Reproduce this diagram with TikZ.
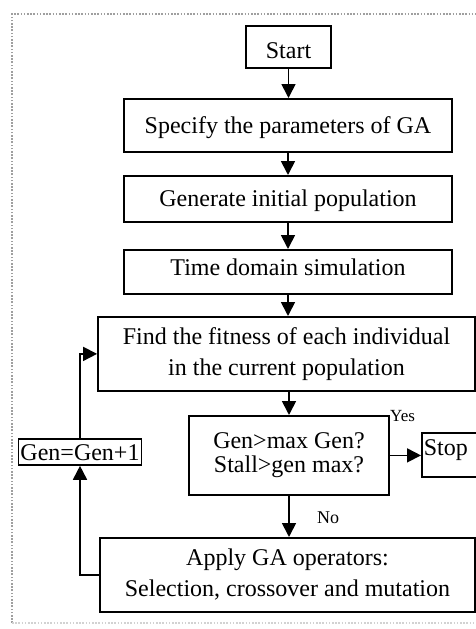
\documentclass[tikz,border=0pt]{standalone}
\usepackage{fontspec}
\setmainfont{Liberation Serif}
\usetikzlibrary{arrows.meta}
\tikzset{
  box/.style={draw=black, line width=1.8pt, inner xsep=0pt, inner ysep=0pt, align=center,
    font=\fontsize{24pt}{31pt}\selectfont, anchor=north},
  arr/.style={line width=1.7pt, -{Triangle[width=14pt,length=14pt]}},
  lbl/.style={inner sep=0pt, font=\fontsize{18pt}{20pt}\selectfont, anchor=base west},
  frame/.style={draw=gray!75, line width=1.3pt, dash pattern=on 1.6pt off 1.6pt}
}
\begin{document}
\begin{tikzpicture}[x=1pt, y=-1pt]
\useasboundingbox (0,0) rectangle (476,629);
% dotted frame
\draw[frame] (12,623) -- (12,14) -- (480,14);
\draw[frame, draw=gray!35] (12,623) -- (480,623);

\node[box, minimum width=85pt, text height=33pt, text depth=9pt] (start) at (288.5,25) {Start};
\node[box, minimum width=328pt, text height=35pt, text depth=18pt] (spec) at (288,98) {Specify the parameters of GA};
\node[box, minimum width=328pt, text height=31pt, text depth=15pt] (init) at (288,175) {Generate initial population};
\node[box, minimum width=328pt, text height=26pt, text depth=18pt] (sim) at (288,249) {Time domain simulation};
\node[box, minimum width=377pt, minimum height=74pt] (find) at (286.5,316) {Find the fitness of each individual\\in the current population};
\node[box, minimum width=200pt, minimum height=79pt, font=\fontsize{24pt}{24pt}\selectfont] (dec) at (289,415) {Gen>max Gen?\\Stall>gen max?};
\node[box, minimum width=375pt, minimum height=74pt] (apply) at (287.5,537) {Apply GA operators:\\Selection, crossover and mutation};
\node[box, minimum width=123pt, text height=22pt, text depth=4pt] (gen) at (80,438) {Gen=Gen+1};
\node[box, anchor=north west, text width=76pt, align=left, inner xsep=2pt, text height=23pt, text depth=21pt] (stop) at (421,432) {Stop};

\node[lbl, font=\fontsize{17pt}{19pt}\selectfont] (yes) at (390,421) {Yes};
\node[lbl] (no) at (317,523) {No};

\draw[arr] (start.south) -- (start.south |- spec.north);
\draw[arr] (spec.south) -- (spec.south |- init.north);
\draw[arr] (init.south) -- (init.south |- sim.north);
\draw[arr] (sim.south) -- (sim.south |- find.north);
\draw[arr] (dec.north |- find.south) -- (dec.north);
\draw[arr] (dec.south) -- (dec.south |- apply.north);
\draw[arr] (dec.east) -- (dec.east -| stop.west);
\draw[arr] (apply.west) -| (gen.south);
\draw[arr] (gen.north) |- (find.west);
\end{tikzpicture}
\end{document}
